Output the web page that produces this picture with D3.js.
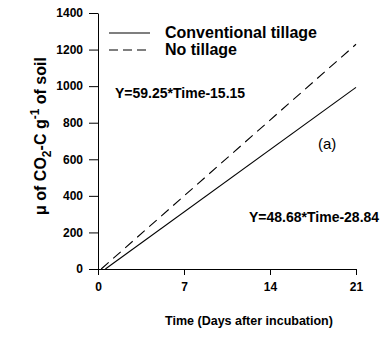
<!DOCTYPE html>
<html>
<head>
<meta charset="utf-8">
<script src="https://cdn.jsdelivr.net/npm/d3@7"></script>
<style>
  body { margin: 0; background: #fff; }
  text { font-family: "Liberation Sans", Arial, sans-serif; }
  .tick text { font-weight: bold; font-size: 12px; }
</style>
</head>
<body>
<svg id="chart"></svg>
<script>
// values
const series = ['Conventional tillage', 'No tillage'];
const conventionalDays = [0.6, 21];
const conventionalCO2 = [0, 993];
const noTillDays = [0.26, 21];
const noTillCO2 = [0, 1229];
const xTicks = [0, 7, 14, 21];
const yTicks = [0, 200, 400, 600, 800, 1000, 1200, 1400];
const equations = ['Y=59.25*Time-15.15', 'Y=48.68*Time-28.84'];

const width = 385, height = 337;
const margin = {top: 13, right: 29, bottom: 68, left: 98};
const innerW = width - margin.left - margin.right;
const innerH = height - margin.top - margin.bottom;

const svg = d3.select('#chart')
  .attr('width', width)
  .attr('height', height);

const chart = svg.append('g')
  .attr('transform', `translate(${margin.left},${margin.top})`);

const xScale = d3.scaleLinear().domain([0, 21]).range([0, innerW]);
const yScale = d3.scaleLinear().domain([0, 1400]).range([innerH, 0]);

// axes
const xAxisG = chart.append('g')
  .attr('transform', `translate(0,${innerH})`)
  .call(d3.axisBottom(xScale).tickValues(xTicks).tickSize(6).tickPadding(7).tickSizeOuter(0));
const yAxisG = chart.append('g')
  .call(d3.axisLeft(yScale).tickValues(yTicks).tickFormat(d3.format('d'))
    .tickSize(9).tickPadding(6).tickSizeOuter(0));

[xAxisG, yAxisG].forEach(g => {
  g.selectAll('.domain, .tick line').attr('stroke', '#000').attr('stroke-width', 1);
  g.selectAll('.tick text').attr('fill', '#000');
});

// lines
const line = d3.line()
  .x(d => xScale(d[0]))
  .y(d => yScale(d[1]));

const lineData = [
  {name: series[0], pts: d3.zip(conventionalDays, conventionalCO2), dash: null},
  {name: series[1], pts: d3.zip(noTillDays, noTillCO2), dash: '10,6'}
];

chart.selectAll('.series')
  .data(lineData)
  .join('path')
  .attr('class', 'series')
  .attr('d', d => line(d.pts))
  .attr('fill', 'none')
  .attr('stroke', '#000')
  .attr('stroke-width', 1.1)
  .attr('stroke-dasharray', d => d.dash);

// legend
const legend = svg.append('g');
lineData.forEach((d, i) => {
  const y = 33 + i * 17;
  legend.append('line')
    .attr('x1', 109).attr('x2', 150)
    .attr('y1', y).attr('y2', y)
    .attr('stroke', '#000')
    .attr('stroke-width', 1.1)
    .attr('stroke-dasharray', d.dash ? '9,5' : null);
  legend.append('text')
    .attr('x', 165).attr('y', y + 5)
    .style('font-size', '16px')
    .style('font-weight', 'bold')
    .text(d.name);
});

// equations and panel label
svg.append('text')
  .attr('x', 115).attr('y', 98)
  .style('font-size', '14px')
  .style('font-weight', 'bold')
  .text(equations[0]);
svg.append('text')
  .attr('x', 249).attr('y', 222)
  .style('font-size', '14px')
  .style('font-weight', 'bold')
  .text(equations[1]);
svg.append('text')
  .attr('x', 318).attr('y', 149)
  .style('font-size', '15px')
  .text('(a)');

// axis titles
svg.append('text')
  .attr('x', 249)
  .attr('y', 325)
  .style('text-anchor', 'middle')
  .style('font-size', '12.5px')
  .style('font-weight', 'bold')
  .text('Time (Days after incubation)');

const yTitle = svg.append('text')
  .attr('transform', 'rotate(-90)')
  .attr('x', -136)
  .attr('y', 46)
  .style('text-anchor', 'middle')
  .style('font-size', '16px')
  .style('font-weight', 'bold');
yTitle.append('tspan').text('\u03bc of CO');
yTitle.append('tspan').attr('dy', 5).style('font-size', '12px').text('2');
yTitle.append('tspan').attr('dy', -5).text('-C g');
yTitle.append('tspan').attr('dy', -7).style('font-size', '12px').text('-1');
yTitle.append('tspan').attr('dy', 7).text(' of soil');
</script>
</body>
</html>
